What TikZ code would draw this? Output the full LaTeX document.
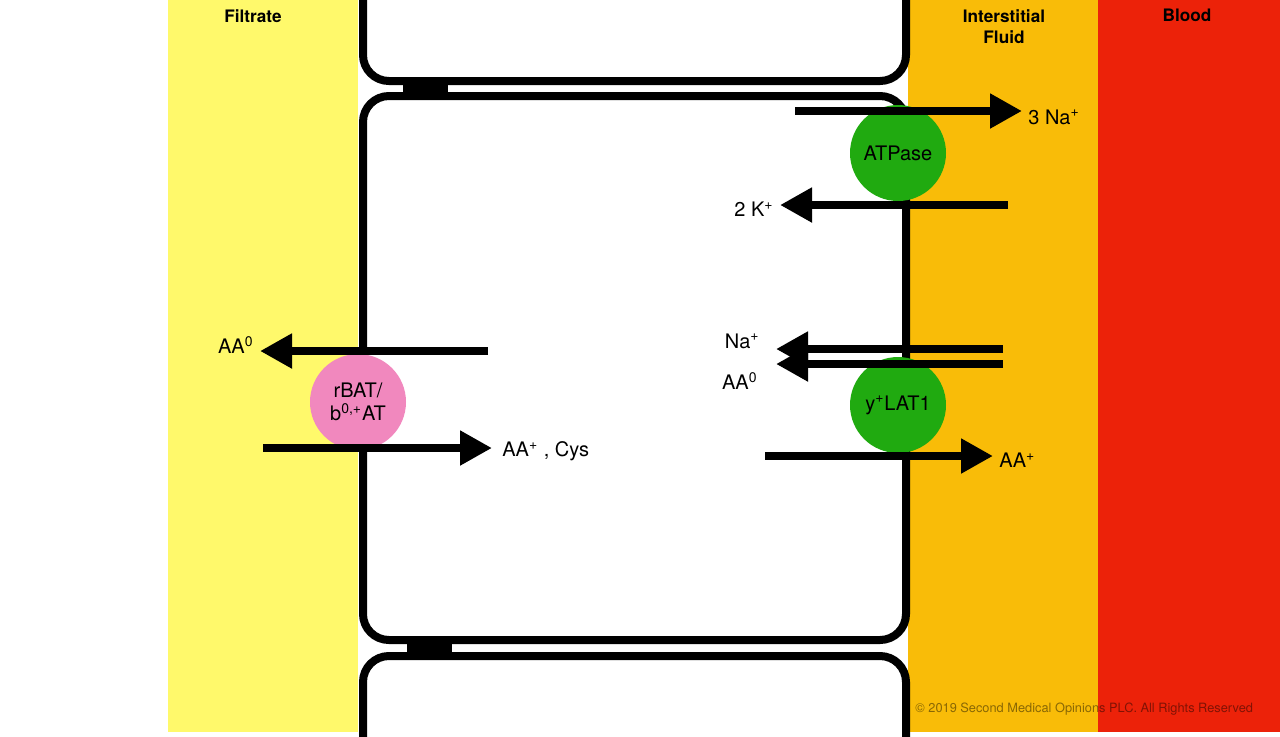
\documentclass[tikz,border=0pt]{standalone}
\usepackage{fontspec}
\setmainfont{TeX Gyre Heros}
\usetikzlibrary{arrows.meta,positioning}

\definecolor{filtrate}{RGB}{255,249,107}
\definecolor{interstitial}{RGB}{249,188,8}
\definecolor{blood}{RGB}{236,34,9}
\definecolor{pumpgreen}{RGB}{32,170,16}
\definecolor{batpink}{RGB}{241,136,190}

\tikzset{
  cell/.style={draw, line width=4pt, rounded corners=13pt, fill=white},
  transporter/.style={circle, minimum size=48pt, inner sep=0pt, align=center, font=\fontsize{10}{11.5}\selectfont},
  flux/.style={->, line width=4pt},
  ion/.style={font=\fontsize{10}{12}\selectfont, inner sep=1pt},
  region/.style={font=\fontsize{8.6}{10.4}\selectfont\bfseries, align=center, anchor=north, inner sep=1pt},
}

\begin{document}
\begin{tikzpicture}[x=0.5pt, y=-0.5pt, >={Triangle[length=16pt,width=16.5pt]}]

\useasboundingbox (0,0) rectangle (1280,736);

% compartments
\fill [filtrate] (168,0) rectangle (358,732);
\fill [interstitial] (908,0) rectangle (1098,732);
\fill [blood] (1098,0) rectangle (1280,732);

\foreach \l/\x [count=\i] in {Filtrate/253, Interstitial\\Fluid/1004, Blood/1187}
  \node [region] (title-\i) at (\x,7) {\l};

% tubule cells
\begin{scope}
  \clip (0,0) rectangle (1280,736);
  \foreach \ya/\yb in {-60/81, 96/640, 656/800}
    \draw [cell] (363,\ya) rectangle (906,\yb);
\end{scope}

% tight junctions
\fill (403,79) rectangle (448,98);
\fill (407,638) rectangle (452,658);

% transporters
\node [transporter, fill=pumpgreen] (atpase) at (898,153) {ATPase};
\node [transporter, fill=pumpgreen] (ylat) at (898,405) {y\textsuperscript{+}LAT1};
\node [transporter, fill=batpink] (rbat) at (358,402) {rBAT/\\b\textsuperscript{0,+}AT};

% fluxes
\foreach \n/\xa/\xb/\y in {na3/795/1022/111, k2/1008/780/205, na/1003/776/349, aa0r/1003/776/364,
                           aapr/765/993/456, aa0l/488/260/351, aapl/263/492/448}
{
  \coordinate (\n-from) at (\xa,\y);
  \coordinate (\n-to) at (\xb,\y);
  \draw [flux] (\n-from) -- (\n-to);
}

\node [ion, right=2pt of na3-to, yshift=-3pt] (na3) {3 Na\textsuperscript{+}};
\node [ion, left=2pt of k2-to, yshift=-2pt] (k2) {2 K\textsuperscript{+}};
\node [ion, anchor=east] (na) at (762,341) {Na\textsuperscript{+}};
\node [ion, anchor=east] (aa0r) at (760,381) {AA\textsuperscript{0}};
\node [ion, right=2pt of aapr-to, yshift=-2pt] (aapr) {AA\textsuperscript{+}};
\node [ion, anchor=east] (aa0l) at (256,345) {AA\textsuperscript{0}};
\node [ion, right=4pt of aapl-to, yshift=-1.5pt] (aapl) {AA\textsuperscript{+} , Cys};

\node [anchor=west, font=\fontsize{6.4}{8}\selectfont, text opacity=0.45, inner sep=0pt] (copyright)
  at (915,709) {\textcopyright{} 2019 Second Medical Opinions PLC. All Rights Reserved};

\end{tikzpicture}
\end{document}
